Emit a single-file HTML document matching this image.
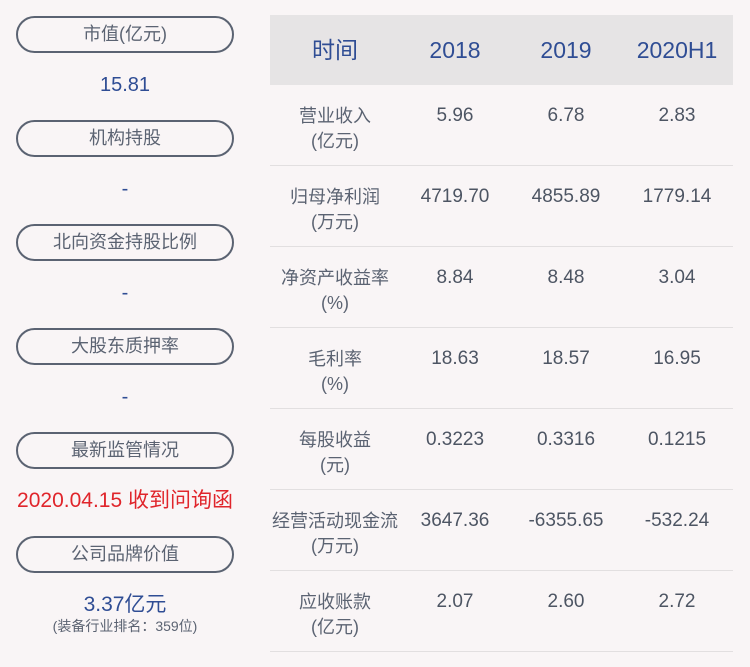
<!DOCTYPE html><html><head><meta charset="utf-8"><style>
body{margin:0;width:750px;height:667px;background:#f9f5f6;position:relative;overflow:hidden;font-family:"Liberation Sans","Noto Sans CJK SC",sans-serif}
.p{position:absolute;left:16px;width:214px;height:33px;border:2px solid #5b6372;border-radius:19px;text-align:center;line-height:33px;font-size:18px;color:#5b6372}
.v{position:absolute;left:0;width:250px;text-align:center;font-size:20px;color:#2f4d94;line-height:24px}
.t{position:absolute;text-align:center;line-height:24px}
.hd{position:absolute;left:270px;top:15px;width:463px;height:70px;background:#e6e4e5}
.h{position:absolute;top:38px;font-size:23px;color:#2f4d94;text-align:center;width:110px;line-height:24px}
.ln{position:absolute;left:270px;width:463px;height:1px;background:#e2dfe0}
.l{position:absolute;left:270px;width:130px;text-align:center;font-size:18px;color:#5b6372;line-height:25px}
.n{position:absolute;width:110px;text-align:center;font-size:19px;color:#4d5563;line-height:24px}
</style></head><body>
<div class="p" style="top:16px">市值(亿元)</div><div class="v" style="top:73px">15.81</div>
<div class="p" style="top:120px">机构持股</div><div class="v" style="top:177px">-</div>
<div class="p" style="top:224px">北向资金持股比例</div><div class="v" style="top:281px">-</div>
<div class="p" style="top:328px">大股东质押率</div><div class="v" style="top:385px">-</div>
<div class="p" style="top:432px">最新监管情况</div><div class="v" style="top:489px;color:#e0252b;font-size:21px">2020.04.15 收到问询函</div>
<div class="p" style="top:536px">公司品牌价值</div><div class="v" style="top:593px;font-size:21px">3.37亿元</div>
<div class="v" style="top:616px;font-size:14px;color:#5b6372;line-height:20px">(装备行业排名：359位)</div>
<div class="hd"></div>
<div class="h" style="left:280px">时间</div><div class="h" style="left:400px">2018</div><div class="h" style="left:511px">2019</div><div class="h" style="left:622px">2020H1</div>
<div class="ln" style="top:165px"></div><div class="ln" style="top:246px"></div><div class="ln" style="top:327px"></div><div class="ln" style="top:408px"></div><div class="ln" style="top:489px"></div><div class="ln" style="top:570px"></div><div class="ln" style="top:651px"></div>
<div class="l" style="top:104px">营业收入<br>(亿元)</div><div class="n" style="left:400px;top:104px">5.96</div><div class="n" style="left:511px;top:104px">6.78</div><div class="n" style="left:622px;top:104px">2.83</div>
<div class="l" style="top:185px">归母净利润<br>(万元)</div><div class="n" style="left:400px;top:185px">4719.70</div><div class="n" style="left:511px;top:185px">4855.89</div><div class="n" style="left:622px;top:185px">1779.14</div>
<div class="l" style="top:266px">净资产收益率<br>(%)</div><div class="n" style="left:400px;top:266px">8.84</div><div class="n" style="left:511px;top:266px">8.48</div><div class="n" style="left:622px;top:266px">3.04</div>
<div class="l" style="top:347px">毛利率<br>(%)</div><div class="n" style="left:400px;top:347px">18.63</div><div class="n" style="left:511px;top:347px">18.57</div><div class="n" style="left:622px;top:347px">16.95</div>
<div class="l" style="top:428px">每股收益<br>(元)</div><div class="n" style="left:400px;top:428px">0.3223</div><div class="n" style="left:511px;top:428px">0.3316</div><div class="n" style="left:622px;top:428px">0.1215</div>
<div class="l" style="top:509px">经营活动现金流<br>(万元)</div><div class="n" style="left:400px;top:509px">3647.36</div><div class="n" style="left:511px;top:509px">-6355.65</div><div class="n" style="left:622px;top:509px">-532.24</div>
<div class="l" style="top:590px">应收账款<br>(亿元)</div><div class="n" style="left:400px;top:590px">2.07</div><div class="n" style="left:511px;top:590px">2.60</div><div class="n" style="left:622px;top:590px">2.72</div>
</body></html>
